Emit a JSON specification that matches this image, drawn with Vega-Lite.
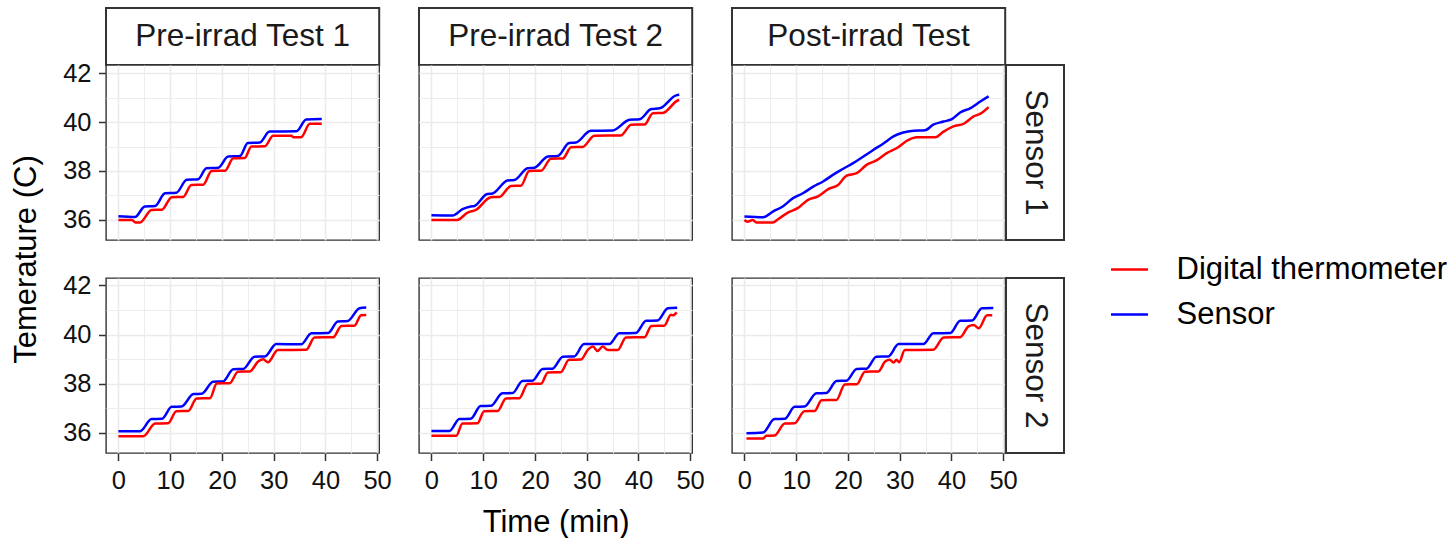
{
  "$schema": "https://vega.github.io/schema/vega-lite/v6.json",
  "padding": {"left": 9, "top": 2, "right": 0, "bottom": 0},
  "config": {
    "font": "Liberation Sans",
    "view": {"stroke": null},
    "axis": {
      "domain": false,
      "grid": true,
      "gridColor": "#EBEBEB",
      "tickColor": "#333333",
      "tickWidth": 1.5,
      "tickSize": 7.5,
      "labelFont": "Liberation Sans",
      "labelFontSize": 25.5,
      "labelColor": "#111111",
      "labelOverlap": false,
      "labelFlush": false,
      "titleFont": "Liberation Sans",
      "titleFontSize": 31,
      "titleFontWeight": "normal",
      "titleColor": "#000000"
    },
    "legend": {
      "orient": "none",
      "legendX": 1003.5,
      "legendY": 241.5,
      "padding": 0,
      "labelFont": "Liberation Sans",
      "labelFontSize": 31,
      "labelColor": "#000000",
      "labelOffset": 27,
      "labelLimit": 0,
      "symbolType": "stroke",
      "symbolSize": 1369,
      "symbolStrokeWidth": 2.5,
      "rowPadding": 10
    }
  },
  "datasets": {
    "temps": [
      {"sensor":1,"test":"pre1","series":"Sensor","time":0,"temp":36.15},
      {"sensor":1,"test":"pre1","series":"Sensor","time":3.2,"temp":36.12},
      {"sensor":1,"test":"pre1","series":"Sensor","time":5.1,"temp":36.55},
      {"sensor":1,"test":"pre1","series":"Sensor","time":7.1,"temp":36.57},
      {"sensor":1,"test":"pre1","series":"Sensor","time":9.0,"temp":37.09},
      {"sensor":1,"test":"pre1","series":"Sensor","time":11.2,"temp":37.11},
      {"sensor":1,"test":"pre1","series":"Sensor","time":13.2,"temp":37.64},
      {"sensor":1,"test":"pre1","series":"Sensor","time":15.4,"temp":37.66},
      {"sensor":1,"test":"pre1","series":"Sensor","time":17.0,"temp":38.11},
      {"sensor":1,"test":"pre1","series":"Sensor","time":19.3,"temp":38.13},
      {"sensor":1,"test":"pre1","series":"Sensor","time":21.2,"temp":38.59},
      {"sensor":1,"test":"pre1","series":"Sensor","time":23.5,"temp":38.61},
      {"sensor":1,"test":"pre1","series":"Sensor","time":25.0,"temp":39.14},
      {"sensor":1,"test":"pre1","series":"Sensor","time":27.3,"temp":39.16},
      {"sensor":1,"test":"pre1","series":"Sensor","time":29.2,"temp":39.61},
      {"sensor":1,"test":"pre1","series":"Sensor","time":34.4,"temp":39.62},
      {"sensor":1,"test":"pre1","series":"Sensor","time":36.3,"temp":40.1},
      {"sensor":1,"test":"pre1","series":"Sensor","time":39.3,"temp":40.12},

      {"sensor":1,"test":"pre1","series":"Digital thermometer","time":0,"temp":36.0},
      {"sensor":1,"test":"pre1","series":"Digital thermometer","time":2.6,"temp":36.0},
      {"sensor":1,"test":"pre1","series":"Digital thermometer","time":3.3,"temp":35.9},
      {"sensor":1,"test":"pre1","series":"Digital thermometer","time":4.2,"temp":35.9},
      {"sensor":1,"test":"pre1","series":"Digital thermometer","time":6.4,"temp":36.41},
      {"sensor":1,"test":"pre1","series":"Digital thermometer","time":8.4,"temp":36.42},
      {"sensor":1,"test":"pre1","series":"Digital thermometer","time":10.3,"temp":36.93},
      {"sensor":1,"test":"pre1","series":"Digital thermometer","time":12.5,"temp":36.94},
      {"sensor":1,"test":"pre1","series":"Digital thermometer","time":14.1,"temp":37.43},
      {"sensor":1,"test":"pre1","series":"Digital thermometer","time":16.4,"temp":37.44},
      {"sensor":1,"test":"pre1","series":"Digital thermometer","time":18.0,"temp":38.0},
      {"sensor":1,"test":"pre1","series":"Digital thermometer","time":20.6,"temp":38.01},
      {"sensor":1,"test":"pre1","series":"Digital thermometer","time":22.2,"temp":38.52},
      {"sensor":1,"test":"pre1","series":"Digital thermometer","time":24.4,"temp":38.53},
      {"sensor":1,"test":"pre1","series":"Digital thermometer","time":25.7,"temp":39.0},
      {"sensor":1,"test":"pre1","series":"Digital thermometer","time":28.3,"temp":39.01},
      {"sensor":1,"test":"pre1","series":"Digital thermometer","time":29.9,"temp":39.44},
      {"sensor":1,"test":"pre1","series":"Digital thermometer","time":33.4,"temp":39.44},
      {"sensor":1,"test":"pre1","series":"Digital thermometer","time":33.8,"temp":39.38},
      {"sensor":1,"test":"pre1","series":"Digital thermometer","time":35.3,"temp":39.38},
      {"sensor":1,"test":"pre1","series":"Digital thermometer","time":37.0,"temp":39.93},
      {"sensor":1,"test":"pre1","series":"Digital thermometer","time":39.3,"temp":39.93},

      {"sensor":1,"test":"pre2","series":"Sensor","time":0,"temp":36.19},
      {"sensor":1,"test":"pre2","series":"Sensor","time":4.1,"temp":36.18},
      {"sensor":1,"test":"pre2","series":"Sensor","time":6.0,"temp":36.44},
      {"sensor":1,"test":"pre2","series":"Sensor","time":7.6,"temp":36.55},
      {"sensor":1,"test":"pre2","series":"Sensor","time":8.3,"temp":36.57},
      {"sensor":1,"test":"pre2","series":"Sensor","time":10.8,"temp":37.06},
      {"sensor":1,"test":"pre2","series":"Sensor","time":11.8,"temp":37.08},
      {"sensor":1,"test":"pre2","series":"Sensor","time":14.7,"temp":37.61},
      {"sensor":1,"test":"pre2","series":"Sensor","time":16.0,"temp":37.63},
      {"sensor":1,"test":"pre2","series":"Sensor","time":18.6,"temp":38.11},
      {"sensor":1,"test":"pre2","series":"Sensor","time":19.9,"temp":38.13},
      {"sensor":1,"test":"pre2","series":"Sensor","time":22.5,"temp":38.59},
      {"sensor":1,"test":"pre2","series":"Sensor","time":24.4,"temp":38.61},
      {"sensor":1,"test":"pre2","series":"Sensor","time":26.6,"temp":39.14},
      {"sensor":1,"test":"pre2","series":"Sensor","time":27.9,"temp":39.16},
      {"sensor":1,"test":"pre2","series":"Sensor","time":30.8,"temp":39.64},
      {"sensor":1,"test":"pre2","series":"Sensor","time":35.0,"temp":39.65},
      {"sensor":1,"test":"pre2","series":"Sensor","time":38.3,"temp":40.09},
      {"sensor":1,"test":"pre2","series":"Sensor","time":40.2,"temp":40.11},
      {"sensor":1,"test":"pre2","series":"Sensor","time":42.5,"temp":40.53},
      {"sensor":1,"test":"pre2","series":"Sensor","time":44.1,"temp":40.56},
      {"sensor":1,"test":"pre2","series":"Sensor","time":47.3,"temp":41.09},
      {"sensor":1,"test":"pre2","series":"Sensor","time":47.9,"temp":41.11},

      {"sensor":1,"test":"pre2","series":"Digital thermometer","time":0,"temp":36.0},
      {"sensor":1,"test":"pre2","series":"Digital thermometer","time":5.0,"temp":36.0},
      {"sensor":1,"test":"pre2","series":"Digital thermometer","time":7.0,"temp":36.3},
      {"sensor":1,"test":"pre2","series":"Digital thermometer","time":8.6,"temp":36.41},
      {"sensor":1,"test":"pre2","series":"Digital thermometer","time":11.5,"temp":36.93},
      {"sensor":1,"test":"pre2","series":"Digital thermometer","time":13.1,"temp":36.94},
      {"sensor":1,"test":"pre2","series":"Digital thermometer","time":15.4,"temp":37.39},
      {"sensor":1,"test":"pre2","series":"Digital thermometer","time":17.3,"temp":37.4},
      {"sensor":1,"test":"pre2","series":"Digital thermometer","time":18.9,"temp":38.0},
      {"sensor":1,"test":"pre2","series":"Digital thermometer","time":21.2,"temp":38.01},
      {"sensor":1,"test":"pre2","series":"Digital thermometer","time":23.1,"temp":38.5},
      {"sensor":1,"test":"pre2","series":"Digital thermometer","time":25.4,"temp":38.51},
      {"sensor":1,"test":"pre2","series":"Digital thermometer","time":27.0,"temp":38.97},
      {"sensor":1,"test":"pre2","series":"Digital thermometer","time":29.2,"temp":38.98},
      {"sensor":1,"test":"pre2","series":"Digital thermometer","time":31.5,"temp":39.44},
      {"sensor":1,"test":"pre2","series":"Digital thermometer","time":36.6,"temp":39.45},
      {"sensor":1,"test":"pre2","series":"Digital thermometer","time":38.6,"temp":39.89},
      {"sensor":1,"test":"pre2","series":"Digital thermometer","time":41.2,"temp":39.9},
      {"sensor":1,"test":"pre2","series":"Digital thermometer","time":42.8,"temp":40.36},
      {"sensor":1,"test":"pre2","series":"Digital thermometer","time":44.7,"temp":40.37},
      {"sensor":1,"test":"pre2","series":"Digital thermometer","time":47.6,"temp":40.88},
      {"sensor":1,"test":"pre2","series":"Digital thermometer","time":47.9,"temp":40.9},

      {"sensor":1,"test":"post","series":"Sensor","time":0,"temp":36.14},
      {"sensor":1,"test":"post","series":"Sensor","time":3.6,"temp":36.11},
      {"sensor":1,"test":"post","series":"Sensor","time":5.5,"temp":36.34},
      {"sensor":1,"test":"post","series":"Sensor","time":7.4,"temp":36.55},
      {"sensor":1,"test":"post","series":"Sensor","time":9.4,"temp":36.89},
      {"sensor":1,"test":"post","series":"Sensor","time":11.3,"temp":37.09},
      {"sensor":1,"test":"post","series":"Sensor","time":13.3,"temp":37.36},
      {"sensor":1,"test":"post","series":"Sensor","time":15.2,"temp":37.57},
      {"sensor":1,"test":"post","series":"Sensor","time":17.1,"temp":37.84},
      {"sensor":1,"test":"post","series":"Sensor","time":19.1,"temp":38.09},
      {"sensor":1,"test":"post","series":"Sensor","time":21.0,"temp":38.32},
      {"sensor":1,"test":"post","series":"Sensor","time":23.0,"temp":38.59},
      {"sensor":1,"test":"post","series":"Sensor","time":24.9,"temp":38.86},
      {"sensor":1,"test":"post","series":"Sensor","time":26.8,"temp":39.11},
      {"sensor":1,"test":"post","series":"Sensor","time":28.8,"temp":39.41},
      {"sensor":1,"test":"post","series":"Sensor","time":30.7,"temp":39.57},
      {"sensor":1,"test":"post","series":"Sensor","time":32.7,"temp":39.64},
      {"sensor":1,"test":"post","series":"Sensor","time":34.9,"temp":39.66},
      {"sensor":1,"test":"post","series":"Sensor","time":36.5,"temp":39.89},
      {"sensor":1,"test":"post","series":"Sensor","time":38.5,"temp":40.02},
      {"sensor":1,"test":"post","series":"Sensor","time":40.1,"temp":40.12},
      {"sensor":1,"test":"post","series":"Sensor","time":41.7,"temp":40.39},
      {"sensor":1,"test":"post","series":"Sensor","time":43.7,"temp":40.57},
      {"sensor":1,"test":"post","series":"Sensor","time":45.6,"temp":40.84},
      {"sensor":1,"test":"post","series":"Sensor","time":47.2,"temp":41.05},

      {"sensor":1,"test":"post","series":"Digital thermometer","time":0,"temp":36.0},
      {"sensor":1,"test":"post","series":"Digital thermometer","time":0.6,"temp":35.93},
      {"sensor":1,"test":"post","series":"Digital thermometer","time":1.6,"temp":36.0},
      {"sensor":1,"test":"post","series":"Digital thermometer","time":2.3,"temp":35.9},
      {"sensor":1,"test":"post","series":"Digital thermometer","time":5.5,"temp":35.9},
      {"sensor":1,"test":"post","series":"Digital thermometer","time":6.5,"temp":36.03},
      {"sensor":1,"test":"post","series":"Digital thermometer","time":8.4,"temp":36.3},
      {"sensor":1,"test":"post","series":"Digital thermometer","time":10.3,"temp":36.48},
      {"sensor":1,"test":"post","series":"Digital thermometer","time":12.3,"temp":36.82},
      {"sensor":1,"test":"post","series":"Digital thermometer","time":14.2,"temp":36.96},
      {"sensor":1,"test":"post","series":"Digital thermometer","time":16.2,"temp":37.26},
      {"sensor":1,"test":"post","series":"Digital thermometer","time":18.1,"temp":37.43},
      {"sensor":1,"test":"post","series":"Digital thermometer","time":19.7,"temp":37.8},
      {"sensor":1,"test":"post","series":"Digital thermometer","time":21.7,"temp":37.91},
      {"sensor":1,"test":"post","series":"Digital thermometer","time":23.6,"temp":38.25},
      {"sensor":1,"test":"post","series":"Digital thermometer","time":25.5,"temp":38.43},
      {"sensor":1,"test":"post","series":"Digital thermometer","time":27.5,"temp":38.73},
      {"sensor":1,"test":"post","series":"Digital thermometer","time":29.4,"temp":38.93},
      {"sensor":1,"test":"post","series":"Digital thermometer","time":31.7,"temp":39.27},
      {"sensor":1,"test":"post","series":"Digital thermometer","time":33.3,"temp":39.38},
      {"sensor":1,"test":"post","series":"Digital thermometer","time":36.9,"temp":39.38},
      {"sensor":1,"test":"post","series":"Digital thermometer","time":38.5,"temp":39.61},
      {"sensor":1,"test":"post","series":"Digital thermometer","time":40.4,"temp":39.82},
      {"sensor":1,"test":"post","series":"Digital thermometer","time":42.4,"temp":39.93},
      {"sensor":1,"test":"post","series":"Digital thermometer","time":44.3,"temp":40.23},
      {"sensor":1,"test":"post","series":"Digital thermometer","time":45.6,"temp":40.34},
      {"sensor":1,"test":"post","series":"Digital thermometer","time":47.2,"temp":40.61},

      {"sensor":2,"test":"pre1","series":"Sensor","time":0,"temp":36.07},
      {"sensor":2,"test":"pre1","series":"Sensor","time":4.2,"temp":36.07},
      {"sensor":2,"test":"pre1","series":"Sensor","time":6.4,"temp":36.56},
      {"sensor":2,"test":"pre1","series":"Sensor","time":8.4,"temp":36.57},
      {"sensor":2,"test":"pre1","series":"Sensor","time":10.3,"temp":37.06},
      {"sensor":2,"test":"pre1","series":"Sensor","time":12.2,"temp":37.07},
      {"sensor":2,"test":"pre1","series":"Sensor","time":14.5,"temp":37.58},
      {"sensor":2,"test":"pre1","series":"Sensor","time":16.1,"temp":37.59},
      {"sensor":2,"test":"pre1","series":"Sensor","time":18.3,"temp":38.08},
      {"sensor":2,"test":"pre1","series":"Sensor","time":20.2,"temp":38.09},
      {"sensor":2,"test":"pre1","series":"Sensor","time":22.2,"temp":38.59},
      {"sensor":2,"test":"pre1","series":"Sensor","time":24.1,"temp":38.6},
      {"sensor":2,"test":"pre1","series":"Sensor","time":26.3,"temp":39.1},
      {"sensor":2,"test":"pre1","series":"Sensor","time":28.3,"temp":39.11},
      {"sensor":2,"test":"pre1","series":"Sensor","time":30.5,"temp":39.61},
      {"sensor":2,"test":"pre1","series":"Sensor","time":35.3,"temp":39.6},
      {"sensor":2,"test":"pre1","series":"Sensor","time":37.3,"temp":40.05},
      {"sensor":2,"test":"pre1","series":"Sensor","time":40.5,"temp":40.06},
      {"sensor":2,"test":"pre1","series":"Sensor","time":42.4,"temp":40.53},
      {"sensor":2,"test":"pre1","series":"Sensor","time":44.3,"temp":40.55},
      {"sensor":2,"test":"pre1","series":"Sensor","time":46.6,"temp":41.07},
      {"sensor":2,"test":"pre1","series":"Sensor","time":47.9,"temp":41.1},

      {"sensor":2,"test":"pre1","series":"Digital thermometer","time":0,"temp":35.86},
      {"sensor":2,"test":"pre1","series":"Digital thermometer","time":4.8,"temp":35.86},
      {"sensor":2,"test":"pre1","series":"Digital thermometer","time":7.1,"temp":36.38},
      {"sensor":2,"test":"pre1","series":"Digital thermometer","time":9.6,"temp":36.39},
      {"sensor":2,"test":"pre1","series":"Digital thermometer","time":11.2,"temp":36.88},
      {"sensor":2,"test":"pre1","series":"Digital thermometer","time":13.5,"temp":36.89},
      {"sensor":2,"test":"pre1","series":"Digital thermometer","time":15.1,"temp":37.4},
      {"sensor":2,"test":"pre1","series":"Digital thermometer","time":17.7,"temp":37.41},
      {"sensor":2,"test":"pre1","series":"Digital thermometer","time":19.0,"temp":38.01},
      {"sensor":2,"test":"pre1","series":"Digital thermometer","time":21.5,"temp":38.02},
      {"sensor":2,"test":"pre1","series":"Digital thermometer","time":23.1,"temp":38.49},
      {"sensor":2,"test":"pre1","series":"Digital thermometer","time":25.4,"temp":38.5},
      {"sensor":2,"test":"pre1","series":"Digital thermometer","time":27.0,"temp":38.9},
      {"sensor":2,"test":"pre1","series":"Digital thermometer","time":28.0,"temp":38.99},
      {"sensor":2,"test":"pre1","series":"Digital thermometer","time":28.9,"temp":38.87},
      {"sensor":2,"test":"pre1","series":"Digital thermometer","time":30.8,"temp":39.37},
      {"sensor":2,"test":"pre1","series":"Digital thermometer","time":36.3,"temp":39.38},
      {"sensor":2,"test":"pre1","series":"Digital thermometer","time":37.9,"temp":39.88},
      {"sensor":2,"test":"pre1","series":"Digital thermometer","time":41.5,"temp":39.89},
      {"sensor":2,"test":"pre1","series":"Digital thermometer","time":43.1,"temp":40.35},
      {"sensor":2,"test":"pre1","series":"Digital thermometer","time":45.6,"temp":40.36},
      {"sensor":2,"test":"pre1","series":"Digital thermometer","time":46.9,"temp":40.78},
      {"sensor":2,"test":"pre1","series":"Digital thermometer","time":47.9,"temp":40.79},

      {"sensor":2,"test":"pre2","series":"Sensor","time":0,"temp":36.08},
      {"sensor":2,"test":"pre2","series":"Sensor","time":3.5,"temp":36.08},
      {"sensor":2,"test":"pre2","series":"Sensor","time":5.4,"temp":36.56},
      {"sensor":2,"test":"pre2","series":"Sensor","time":7.6,"temp":36.57},
      {"sensor":2,"test":"pre2","series":"Sensor","time":9.5,"temp":37.09},
      {"sensor":2,"test":"pre2","series":"Sensor","time":11.5,"temp":37.1},
      {"sensor":2,"test":"pre2","series":"Sensor","time":13.7,"temp":37.61},
      {"sensor":2,"test":"pre2","series":"Sensor","time":15.7,"temp":37.62},
      {"sensor":2,"test":"pre2","series":"Sensor","time":17.6,"temp":38.11},
      {"sensor":2,"test":"pre2","series":"Sensor","time":19.5,"temp":38.12},
      {"sensor":2,"test":"pre2","series":"Sensor","time":21.5,"temp":38.6},
      {"sensor":2,"test":"pre2","series":"Sensor","time":23.4,"temp":38.61},
      {"sensor":2,"test":"pre2","series":"Sensor","time":25.4,"temp":39.1},
      {"sensor":2,"test":"pre2","series":"Sensor","time":27.6,"temp":39.11},
      {"sensor":2,"test":"pre2","series":"Sensor","time":29.5,"temp":39.61},
      {"sensor":2,"test":"pre2","series":"Sensor","time":34.4,"temp":39.61},
      {"sensor":2,"test":"pre2","series":"Sensor","time":36.3,"temp":40.05},
      {"sensor":2,"test":"pre2","series":"Sensor","time":39.5,"temp":40.06},
      {"sensor":2,"test":"pre2","series":"Sensor","time":41.5,"temp":40.56},
      {"sensor":2,"test":"pre2","series":"Sensor","time":43.7,"temp":40.57},
      {"sensor":2,"test":"pre2","series":"Sensor","time":45.7,"temp":41.07},
      {"sensor":2,"test":"pre2","series":"Sensor","time":47.5,"temp":41.09},

      {"sensor":2,"test":"pre2","series":"Digital thermometer","time":0,"temp":35.88},
      {"sensor":2,"test":"pre2","series":"Digital thermometer","time":4.8,"temp":35.88},
      {"sensor":2,"test":"pre2","series":"Digital thermometer","time":6.0,"temp":36.38},
      {"sensor":2,"test":"pre2","series":"Digital thermometer","time":8.9,"temp":36.39},
      {"sensor":2,"test":"pre2","series":"Digital thermometer","time":10.2,"temp":36.88},
      {"sensor":2,"test":"pre2","series":"Digital thermometer","time":12.8,"temp":36.89},
      {"sensor":2,"test":"pre2","series":"Digital thermometer","time":14.4,"temp":37.4},
      {"sensor":2,"test":"pre2","series":"Digital thermometer","time":17.0,"temp":37.41},
      {"sensor":2,"test":"pre2","series":"Digital thermometer","time":18.6,"temp":37.99},
      {"sensor":2,"test":"pre2","series":"Digital thermometer","time":21.2,"temp":38.0},
      {"sensor":2,"test":"pre2","series":"Digital thermometer","time":22.5,"temp":38.46},
      {"sensor":2,"test":"pre2","series":"Digital thermometer","time":25.0,"temp":38.47},
      {"sensor":2,"test":"pre2","series":"Digital thermometer","time":26.6,"temp":38.97},
      {"sensor":2,"test":"pre2","series":"Digital thermometer","time":28.9,"temp":38.98},
      {"sensor":2,"test":"pre2","series":"Digital thermometer","time":30.2,"temp":39.37},
      {"sensor":2,"test":"pre2","series":"Digital thermometer","time":31.2,"temp":39.51},
      {"sensor":2,"test":"pre2","series":"Digital thermometer","time":32.1,"temp":39.33},
      {"sensor":2,"test":"pre2","series":"Digital thermometer","time":33.1,"temp":39.51},
      {"sensor":2,"test":"pre2","series":"Digital thermometer","time":34.1,"temp":39.37},
      {"sensor":2,"test":"pre2","series":"Digital thermometer","time":36.0,"temp":39.37},
      {"sensor":2,"test":"pre2","series":"Digital thermometer","time":37.6,"temp":39.88},
      {"sensor":2,"test":"pre2","series":"Digital thermometer","time":41.2,"temp":39.89},
      {"sensor":2,"test":"pre2","series":"Digital thermometer","time":42.5,"temp":40.35},
      {"sensor":2,"test":"pre2","series":"Digital thermometer","time":45.0,"temp":40.36},
      {"sensor":2,"test":"pre2","series":"Digital thermometer","time":46.3,"temp":40.8},
      {"sensor":2,"test":"pre2","series":"Digital thermometer","time":46.7,"temp":40.78},
      {"sensor":2,"test":"pre2","series":"Digital thermometer","time":47.4,"temp":40.9},

      {"sensor":2,"test":"post","series":"Sensor","time":0.4,"temp":35.98},
      {"sensor":2,"test":"post","series":"Sensor","time":3.6,"temp":36.01},
      {"sensor":2,"test":"post","series":"Sensor","time":5.8,"temp":36.56},
      {"sensor":2,"test":"post","series":"Sensor","time":7.8,"temp":36.57},
      {"sensor":2,"test":"post","series":"Sensor","time":9.7,"temp":37.06},
      {"sensor":2,"test":"post","series":"Sensor","time":11.6,"temp":37.07},
      {"sensor":2,"test":"post","series":"Sensor","time":13.9,"temp":37.61},
      {"sensor":2,"test":"post","series":"Sensor","time":15.8,"temp":37.62},
      {"sensor":2,"test":"post","series":"Sensor","time":17.8,"temp":38.11},
      {"sensor":2,"test":"post","series":"Sensor","time":19.7,"temp":38.12},
      {"sensor":2,"test":"post","series":"Sensor","time":21.7,"temp":38.6},
      {"sensor":2,"test":"post","series":"Sensor","time":23.6,"temp":38.61},
      {"sensor":2,"test":"post","series":"Sensor","time":25.5,"temp":39.1},
      {"sensor":2,"test":"post","series":"Sensor","time":27.8,"temp":39.11},
      {"sensor":2,"test":"post","series":"Sensor","time":29.8,"temp":39.61},
      {"sensor":2,"test":"post","series":"Sensor","time":34.6,"temp":39.61},
      {"sensor":2,"test":"post","series":"Sensor","time":36.5,"temp":40.05},
      {"sensor":2,"test":"post","series":"Sensor","time":39.8,"temp":40.06},
      {"sensor":2,"test":"post","series":"Sensor","time":41.7,"temp":40.56},
      {"sensor":2,"test":"post","series":"Sensor","time":44.0,"temp":40.57},
      {"sensor":2,"test":"post","series":"Sensor","time":45.9,"temp":41.07},
      {"sensor":2,"test":"post","series":"Sensor","time":48.1,"temp":41.08},

      {"sensor":2,"test":"post","series":"Digital thermometer","time":0.4,"temp":35.77},
      {"sensor":2,"test":"post","series":"Digital thermometer","time":3.6,"temp":35.77},
      {"sensor":2,"test":"post","series":"Digital thermometer","time":4.2,"temp":35.88},
      {"sensor":2,"test":"post","series":"Digital thermometer","time":5.8,"temp":35.89},
      {"sensor":2,"test":"post","series":"Digital thermometer","time":7.8,"temp":36.38},
      {"sensor":2,"test":"post","series":"Digital thermometer","time":9.7,"temp":36.39},
      {"sensor":2,"test":"post","series":"Digital thermometer","time":11.6,"temp":36.88},
      {"sensor":2,"test":"post","series":"Digital thermometer","time":13.6,"temp":36.89},
      {"sensor":2,"test":"post","series":"Digital thermometer","time":14.9,"temp":37.33},
      {"sensor":2,"test":"post","series":"Digital thermometer","time":17.8,"temp":37.34},
      {"sensor":2,"test":"post","series":"Digital thermometer","time":19.4,"temp":37.97},
      {"sensor":2,"test":"post","series":"Digital thermometer","time":21.7,"temp":37.98},
      {"sensor":2,"test":"post","series":"Digital thermometer","time":23.3,"temp":38.49},
      {"sensor":2,"test":"post","series":"Digital thermometer","time":25.9,"temp":38.5},
      {"sensor":2,"test":"post","series":"Digital thermometer","time":27.2,"temp":38.9},
      {"sensor":2,"test":"post","series":"Digital thermometer","time":28.1,"temp":38.97},
      {"sensor":2,"test":"post","series":"Digital thermometer","time":28.8,"temp":38.86},
      {"sensor":2,"test":"post","series":"Digital thermometer","time":29.4,"temp":38.97},
      {"sensor":2,"test":"post","series":"Digital thermometer","time":29.9,"temp":38.87},
      {"sensor":2,"test":"post","series":"Digital thermometer","time":31.0,"temp":39.37},
      {"sensor":2,"test":"post","series":"Digital thermometer","time":36.5,"temp":39.38},
      {"sensor":2,"test":"post","series":"Digital thermometer","time":38.5,"temp":39.88},
      {"sensor":2,"test":"post","series":"Digital thermometer","time":41.7,"temp":39.89},
      {"sensor":2,"test":"post","series":"Digital thermometer","time":43.3,"temp":40.33},
      {"sensor":2,"test":"post","series":"Digital thermometer","time":44.3,"temp":40.39},
      {"sensor":2,"test":"post","series":"Digital thermometer","time":45.3,"temp":40.26},
      {"sensor":2,"test":"post","series":"Digital thermometer","time":46.9,"temp":40.78},
      {"sensor":2,"test":"post","series":"Digital thermometer","time":47.9,"temp":40.78}
    ]
  },
  "columns": 6,
  "spacing": 0,
  "bounds": "flush",
  "align": "each",
  "resolve": {"scale": {"color": "shared", "x": "independent", "y": "independent"}},
  "concat": [
    {"width": 273.2, "height": 57, "view": {"stroke": "#333333", "strokeWidth": 2, "fill": "white"}, "data": {"values": [{"label": "Pre-irrad Test 1"}]}, "mark": {"type": "text", "fontSize": 31.5, "color": "#1a1a1a", "font": "Liberation Sans"}, "encoding": {"text": {"field": "label", "type": "nominal"}}},
    {"width": 39, "height": 1, "data": {"values": [{}]}, "mark": {"type": "text"}, "encoding": {}},
    {"width": 273.2, "height": 57, "view": {"stroke": "#333333", "strokeWidth": 2, "fill": "white"}, "data": {"values": [{"label": "Pre-irrad Test 2"}]}, "mark": {"type": "text", "fontSize": 31.5, "color": "#1a1a1a", "font": "Liberation Sans"}, "encoding": {"text": {"field": "label", "type": "nominal"}}},
    {"width": 39, "height": 1, "data": {"values": [{}]}, "mark": {"type": "text"}, "encoding": {}},
    {"width": 273.2, "height": 57, "view": {"stroke": "#333333", "strokeWidth": 2, "fill": "white"}, "data": {"values": [{"label": "Post-irrad Test"}]}, "mark": {"type": "text", "fontSize": 31.5, "color": "#1a1a1a", "font": "Liberation Sans"}, "encoding": {"text": {"field": "label", "type": "nominal"}}},
    {"width": 58, "height": 1, "data": {"values": [{}]}, "mark": {"type": "text"}, "encoding": {}},

    {"width": 273.2, "height": 175, "view": {"stroke": "#333333", "strokeWidth": 1.4, "fill": "white"},
     "data": {"name": "temps"}, "transform": [{"filter": "datum.sensor === 1 && datum.test === 'pre1'"}],
     "mark": {"type": "line", "strokeWidth": 2.5, "interpolate": "monotone"},
     "encoding": {
       "x": {"field": "time", "type": "quantitative", "scale": {"domain": [-2.4, 50.4], "nice": false, "zero": false},
             "axis": {"values": [0,5,10,15,20,25,30,35,40,45,50], "labels": false, "ticks": false, "title": null, "gridWidth": {"condition": {"test": "datum.value % 10 === 0", "value": 1.6}, "value": 0.9}}},
       "y": {"field": "temp", "type": "quantitative", "scale": {"domain": [35.18, 42.33], "nice": false, "zero": false},
             "axis": {"values": [36,37,38,39,40,41,42], "labelExpr": "datum.value % 2 === 0 ? datum.label : ''", "tickOpacity": {"condition": {"test": "datum.value % 2 === 0", "value": 1}, "value": 0}, "labelPadding": 7.5, "title": "Temerature (C)", "titlePadding": 20, "titleY": 194, "gridWidth": {"condition": {"test": "datum.value % 2 === 0", "value": 1.6}, "value": 0.9}}},
       "color": {"field": "series", "type": "nominal", "scale": {"domain": ["Digital thermometer", "Sensor"], "range": ["#FF0000", "#0000FF"]}, "legend": {"title": null}}
     }},
    {"width": 39, "height": 1, "data": {"values": [{}]}, "mark": {"type": "text"}, "encoding": {}},
    {"width": 273.2, "height": 175, "view": {"stroke": "#333333", "strokeWidth": 1.4, "fill": "white"},
     "data": {"name": "temps"}, "transform": [{"filter": "datum.sensor === 1 && datum.test === 'pre2'"}],
     "mark": {"type": "line", "strokeWidth": 2.5, "interpolate": "monotone"},
     "encoding": {
       "x": {"field": "time", "type": "quantitative", "scale": {"domain": [-2.4, 50.4], "nice": false, "zero": false},
             "axis": {"values": [0,5,10,15,20,25,30,35,40,45,50], "labels": false, "ticks": false, "title": null, "gridWidth": {"condition": {"test": "datum.value % 10 === 0", "value": 1.6}, "value": 0.9}}},
       "y": {"field": "temp", "type": "quantitative", "scale": {"domain": [35.18, 42.33], "nice": false, "zero": false},
             "axis": {"values": [36,37,38,39,40,41,42], "labels": false, "ticks": false, "title": null, "gridWidth": {"condition": {"test": "datum.value % 2 === 0", "value": 1.6}, "value": 0.9}}},
       "color": {"field": "series", "type": "nominal", "scale": {"domain": ["Digital thermometer", "Sensor"], "range": ["#FF0000", "#0000FF"]}, "legend": {"title": null}}
     }},
    {"width": 39, "height": 1, "data": {"values": [{}]}, "mark": {"type": "text"}, "encoding": {}},
    {"width": 273.2, "height": 175, "view": {"stroke": "#333333", "strokeWidth": 1.4, "fill": "white"},
     "data": {"name": "temps"}, "transform": [{"filter": "datum.sensor === 1 && datum.test === 'post'"}],
     "mark": {"type": "line", "strokeWidth": 2.5, "interpolate": "monotone"},
     "encoding": {
       "x": {"field": "time", "type": "quantitative", "scale": {"domain": [-2.4, 50.4], "nice": false, "zero": false},
             "axis": {"values": [0,5,10,15,20,25,30,35,40,45,50], "labels": false, "ticks": false, "title": null, "gridWidth": {"condition": {"test": "datum.value % 10 === 0", "value": 1.6}, "value": 0.9}}},
       "y": {"field": "temp", "type": "quantitative", "scale": {"domain": [35.18, 42.33], "nice": false, "zero": false},
             "axis": {"values": [36,37,38,39,40,41,42], "labels": false, "ticks": false, "title": null, "gridWidth": {"condition": {"test": "datum.value % 2 === 0", "value": 1.6}, "value": 0.9}}},
       "color": {"field": "series", "type": "nominal", "scale": {"domain": ["Digital thermometer", "Sensor"], "range": ["#FF0000", "#0000FF"]}, "legend": {"title": null}}
     }},
    {"width": 58, "height": 175, "view": {"stroke": "#333333", "strokeWidth": 2, "fill": "white"}, "data": {"values": [{"label": "Sensor 1"}]}, "mark": {"type": "text", "fontSize": 31.5, "angle": 90, "color": "#1a1a1a", "font": "Liberation Sans"}, "encoding": {"text": {"field": "label", "type": "nominal"}}},

    {"width": 1, "height": 38, "data": {"values": [{}]}, "mark": {"type": "text"}, "encoding": {}},
    {"width": 1, "height": 38, "data": {"values": [{}]}, "mark": {"type": "text"}, "encoding": {}},
    {"width": 1, "height": 38, "data": {"values": [{}]}, "mark": {"type": "text"}, "encoding": {}},
    {"width": 1, "height": 38, "data": {"values": [{}]}, "mark": {"type": "text"}, "encoding": {}},
    {"width": 1, "height": 38, "data": {"values": [{}]}, "mark": {"type": "text"}, "encoding": {}},
    {"width": 1, "height": 38, "data": {"values": [{}]}, "mark": {"type": "text"}, "encoding": {}},

    {"width": 273.2, "height": 175, "view": {"stroke": "#333333", "strokeWidth": 1.4, "fill": "white"},
     "data": {"name": "temps"}, "transform": [{"filter": "datum.sensor === 2 && datum.test === 'pre1'"}],
     "mark": {"type": "line", "strokeWidth": 2.5, "interpolate": "monotone"},
     "encoding": {
       "x": {"field": "time", "type": "quantitative", "scale": {"domain": [-2.4, 50.4], "nice": false, "zero": false},
             "axis": {"values": [0,5,10,15,20,25,30,35,40,45,50], "labelExpr": "datum.value % 10 === 0 ? datum.label : ''", "tickOpacity": {"condition": {"test": "datum.value % 10 === 0", "value": 1}, "value": 0}, "labelPadding": 8, "title": null, "gridWidth": {"condition": {"test": "datum.value % 10 === 0", "value": 1.6}, "value": 0.9}}},
       "y": {"field": "temp", "type": "quantitative", "scale": {"domain": [35.18, 42.3], "nice": false, "zero": false},
             "axis": {"values": [36,37,38,39,40,41,42], "labelExpr": "datum.value % 2 === 0 ? datum.label : ''", "tickOpacity": {"condition": {"test": "datum.value % 2 === 0", "value": 1}, "value": 0}, "labelPadding": 7.5, "title": null, "gridWidth": {"condition": {"test": "datum.value % 2 === 0", "value": 1.6}, "value": 0.9}}},
       "color": {"field": "series", "type": "nominal", "scale": {"domain": ["Digital thermometer", "Sensor"], "range": ["#FF0000", "#0000FF"]}, "legend": {"title": null}}
     }},
    {"width": 39, "height": 1, "data": {"values": [{}]}, "mark": {"type": "text"}, "encoding": {}},
    {"width": 273.2, "height": 175, "view": {"stroke": "#333333", "strokeWidth": 1.4, "fill": "white"},
     "data": {"name": "temps"}, "transform": [{"filter": "datum.sensor === 2 && datum.test === 'pre2'"}],
     "mark": {"type": "line", "strokeWidth": 2.5, "interpolate": "monotone"},
     "encoding": {
       "x": {"field": "time", "type": "quantitative", "scale": {"domain": [-2.4, 50.4], "nice": false, "zero": false},
             "axis": {"values": [0,5,10,15,20,25,30,35,40,45,50], "labelExpr": "datum.value % 10 === 0 ? datum.label : ''", "tickOpacity": {"condition": {"test": "datum.value % 10 === 0", "value": 1}, "value": 0}, "labelPadding": 8, "title": "Time (min)", "titlePadding": 13, "gridWidth": {"condition": {"test": "datum.value % 10 === 0", "value": 1.6}, "value": 0.9}}},
       "y": {"field": "temp", "type": "quantitative", "scale": {"domain": [35.18, 42.3], "nice": false, "zero": false},
             "axis": {"values": [36,37,38,39,40,41,42], "labels": false, "ticks": false, "title": null, "gridWidth": {"condition": {"test": "datum.value % 2 === 0", "value": 1.6}, "value": 0.9}}},
       "color": {"field": "series", "type": "nominal", "scale": {"domain": ["Digital thermometer", "Sensor"], "range": ["#FF0000", "#0000FF"]}, "legend": {"title": null}}
     }},
    {"width": 39, "height": 1, "data": {"values": [{}]}, "mark": {"type": "text"}, "encoding": {}},
    {"width": 273.2, "height": 175, "view": {"stroke": "#333333", "strokeWidth": 1.4, "fill": "white"},
     "data": {"name": "temps"}, "transform": [{"filter": "datum.sensor === 2 && datum.test === 'post'"}],
     "mark": {"type": "line", "strokeWidth": 2.5, "interpolate": "monotone"},
     "encoding": {
       "x": {"field": "time", "type": "quantitative", "scale": {"domain": [-2.4, 50.4], "nice": false, "zero": false},
             "axis": {"values": [0,5,10,15,20,25,30,35,40,45,50], "labelExpr": "datum.value % 10 === 0 ? datum.label : ''", "tickOpacity": {"condition": {"test": "datum.value % 10 === 0", "value": 1}, "value": 0}, "labelPadding": 8, "title": null, "gridWidth": {"condition": {"test": "datum.value % 10 === 0", "value": 1.6}, "value": 0.9}}},
       "y": {"field": "temp", "type": "quantitative", "scale": {"domain": [35.18, 42.3], "nice": false, "zero": false},
             "axis": {"values": [36,37,38,39,40,41,42], "labels": false, "ticks": false, "title": null, "gridWidth": {"condition": {"test": "datum.value % 2 === 0", "value": 1.6}, "value": 0.9}}},
       "color": {"field": "series", "type": "nominal", "scale": {"domain": ["Digital thermometer", "Sensor"], "range": ["#FF0000", "#0000FF"]}, "legend": {"title": null}}
     }},
    {"width": 58, "height": 175, "view": {"stroke": "#333333", "strokeWidth": 2, "fill": "white"}, "data": {"values": [{"label": "Sensor 2"}]}, "mark": {"type": "text", "fontSize": 31.5, "angle": 90, "color": "#1a1a1a", "font": "Liberation Sans"}, "encoding": {"text": {"field": "label", "type": "nominal"}}}
  ]
}
